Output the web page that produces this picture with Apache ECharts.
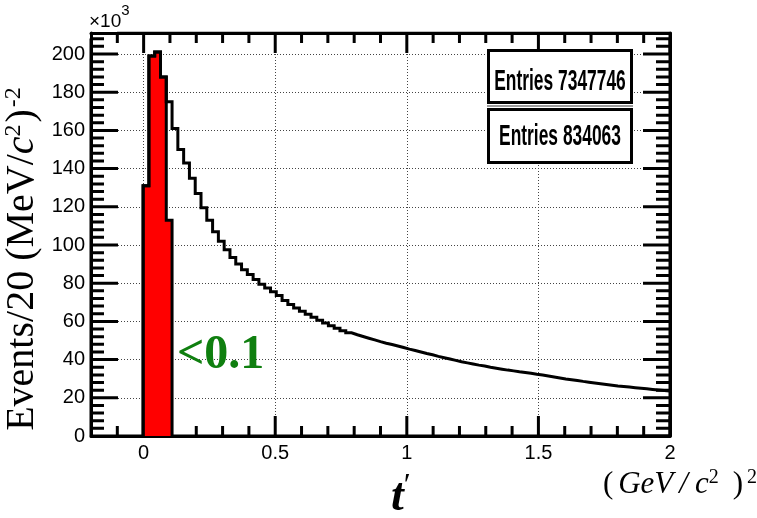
<!DOCTYPE html>
<html>
<head>
<meta charset="utf-8">
<script src="https://cdn.jsdelivr.net/npm/echarts@6/dist/echarts.min.js"></script>
<style>
  html, body { margin: 0; padding: 0; background: #ffffff; }
  #chart { width: 757px; height: 518px; }
</style>
</head>
<body>
<div id="chart"></div>
<script>
// Binning of the t' histogram: 100 bins over [-0.2, 2] (GeV/c^2)^2
const X_MIN = -0.2;
const X_MAX = 2.0;
const N_BINS = 100;
const FIRST_FILLED_BIN = 9;      // bins below this index hold no events

// Events per bin in units of 10^3, all events (bins 9..99)
const allCounts = [
  131, 199, 201, 188, 175, 161, 150, 143, 135, 127,
  119.5, 113, 107, 102, 97.5, 93.5, 90, 87, 84.5, 82,
  79.5, 77.5, 75.5, 73.5, 71, 68.8, 67, 65.3, 63.7, 62.2,
  60.6, 59.1, 57.7, 56.4, 55.1, 54, 53, 52.1, 51.2, 50.3,
  49.4, 48.6, 47.9, 47.1, 46.3, 45.5, 44.8, 44, 43.2, 42.5,
  41.7, 41, 40.3, 39.6, 38.9, 38.3, 37.7, 37.1, 36.6, 36,
  35.5, 35, 34.5, 34.1, 33.6, 33.2, 32.8, 32.3, 31.9, 31.4,
  30.9, 30.4, 29.9, 29.5, 29.1, 28.6, 28.2, 27.8, 27.4, 27,
  26.6, 26.2, 25.9, 25.6, 25.3, 25, 24.7, 24.4, 24.1, 23.8,
  23.5
];

// Events per bin in units of 10^3, selection t' < 0.1 (bins 9..13)
const selCounts = [131, 199, 201, 188, 113];

// Axis ticks (ROOT style: inward ticks on all four sides of the frame)
const xMajorTicks = [0, 0.5, 1, 1.5, 2];
const yMajorTicks = [0, 20, 40, 60, 80, 100, 120, 140, 160, 180, 200];
const X_MINOR_STEP = 0.1;
const Y_MINOR_STEP = 4;
const Y_MAX = 211;
const Y_STEP = 20;
// Tick lengths as fractions of the perpendicular axis span
const TICK_Y_MAJOR = 0.0466, TICK_Y_MINOR_L = 0.0225, TICK_Y_MINOR_R = 0.0242;
const TICK_X_MAJOR = 0.0496, TICK_X_MINOR = 0.0248;

const entriesAll = 7347746;
const entriesSel = 834063;
const cutLabel = '<0.1';

const SANS = "'Liberation Sans', Arial, sans-serif";
const SERIF = "'Liberation Serif', 'Times New Roman', serif";

function minorValues(lo, hi, step, majors) {
  const out = [];
  for (let k = Math.ceil(lo / step - 1e-9); k * step <= hi + 1e-9; k++) {
    const v = +(k * step).toFixed(6);
    if (v > lo && v < hi && !majors.some(m => Math.abs(m - v) < 1e-9)) out.push(v);
  }
  return out;
}
const xMinorTicks = minorValues(X_MIN, X_MAX, X_MINOR_STEP, xMajorTicks);
const yMinorTicks = minorValues(0, Y_MAX, Y_MINOR_STEP, yMajorTicks);

// Build a histogram outline as a stepped polyline through the bin edges
function histPoints(counts, firstBin, dropAtEnd) {
  const w = (X_MAX - X_MIN) / N_BINS;
  const pts = [[X_MIN + firstBin * w, 0]];
  counts.forEach((v, i) => pts.push([X_MIN + (firstBin + i) * w, v]));
  const xEnd = X_MIN + (firstBin + counts.length) * w;
  pts.push([xEnd, counts[counts.length - 1]]);
  if (dropAtEnd) pts.push([xEnd, 0]);
  return pts;
}

// A comb running along one frame edge: out to each tick and back again
function tickComb(edge, majors, minors, majorFrac, minorFrac) {
  const all = majors.map(v => [v, majorFrac]).concat(minors.map(v => [v, minorFrac]))
    .sort((a, b) => a[0] - b[0]);
  const xSpan = X_MAX - X_MIN, ySpan = Y_MAX;
  const pts = [];
  all.forEach(([v, f]) => {
    if (edge === 'left')   pts.push([X_MIN, v], [X_MIN + f * xSpan, v], [X_MIN, v]);
    if (edge === 'right')  pts.push([X_MAX, v], [X_MAX - f * xSpan, v], [X_MAX, v]);
    if (edge === 'bottom') pts.push([v, 0], [v, f * ySpan], [v, 0]);
    if (edge === 'top')    pts.push([v, Y_MAX], [v, Y_MAX - f * ySpan], [v, Y_MAX]);
  });
  return pts;
}

const black = '#000000';
const frameLine = () => ({ show: true, onZero: false, lineStyle: { color: black, width: 3 } });
const dotted = () => ({ show: true, lineStyle: { color: '#444', width: 1, type: [1, 2] } });
const noTick = () => ({ show: false });

const tickSeries = (name, data) => ({
  name: name, type: 'line', xAxisIndex: 0, yAxisIndex: 0, symbol: 'none', z: 2, silent: true,
  lineStyle: { color: black, width: 3, join: 'bevel', cap: 'butt' }, data: data
});

const chart = echarts.init(document.getElementById('chart'), null, { renderer: 'canvas' });

chart.setOption({
  animation: false,
  backgroundColor: '#ffffff',
  grid: { left: 91, right: 87, top: 33, bottom: 82 },
  xAxis: [
    { type: 'value', min: X_MIN, max: X_MAX, position: 'bottom',
      axisLine: frameLine(), axisTick: noTick(), minorTick: noTick(),
      axisLabel: { color: black, fontFamily: SANS, fontSize: 20, margin: 7, showMinLabel: false },
      splitLine: dotted() },
    { type: 'value', min: X_MIN, max: X_MAX, position: 'top',
      axisLine: frameLine(), axisTick: noTick(), minorTick: noTick(),
      axisLabel: { show: false }, splitLine: { show: false } }
  ],
  yAxis: [
    { type: 'value', min: 0, max: Y_MAX, interval: Y_STEP, position: 'left',
      axisLine: frameLine(), axisTick: noTick(), minorTick: noTick(),
      axisLabel: { color: black, fontFamily: SANS, fontSize: 20, margin: 6, showMaxLabel: false,
        formatter: v => (v % Y_STEP === 0 ? String(v) : '') },
      splitLine: dotted() },
    { type: 'value', min: 0, max: Y_MAX, interval: Y_STEP, position: 'right',
      axisLine: frameLine(), axisTick: noTick(), minorTick: noTick(),
      axisLabel: { show: false }, splitLine: { show: false } }
  ],
  series: [
    tickSeries('ticks left', tickComb('left', yMajorTicks, yMinorTicks, TICK_Y_MAJOR, TICK_Y_MINOR_L)),
    tickSeries('ticks right', tickComb('right', yMajorTicks, yMinorTicks, TICK_Y_MAJOR, TICK_Y_MINOR_R)),
    tickSeries('ticks bottom', tickComb('bottom', xMajorTicks, xMinorTicks, TICK_X_MAJOR, TICK_X_MINOR)),
    tickSeries('ticks top', tickComb('top', xMajorTicks, xMinorTicks, TICK_X_MAJOR, TICK_X_MINOR)),
    { name: 'selected', type: 'line', xAxisIndex: 0, yAxisIndex: 0, step: 'end',
      symbol: 'none', z: 3, silent: true,
      lineStyle: { color: black, width: 3, join: 'miter' },
      areaStyle: { color: '#ff0000', opacity: 1 },
      data: histPoints(selCounts, FIRST_FILLED_BIN, true) },
    { name: 'all', type: 'line', xAxisIndex: 0, yAxisIndex: 0, step: 'end',
      symbol: 'none', z: 4, silent: true,
      lineStyle: { color: black, width: 3, join: 'miter' },
      data: histPoints(allCounts, FIRST_FILLED_BIN, false) }
  ],
  graphic: [
    // exponent of the y scale
    { type: 'text', x: 89, y: 3, z: 10,
      style: { text: '{a|×10}{b|3}', textAlign: 'left', textVerticalAlign: 'top',
        rich: { a: { fontFamily: SANS, fontSize: 19, color: black, lineHeight: 28, verticalAlign: 'bottom' },
                b: { fontFamily: SANS, fontSize: 15, color: black, lineHeight: 28, verticalAlign: 'top' } } } },
    // y axis title
    { type: 'text', x: 22, y: 259, rotation: Math.PI / 2, z: 10,
      style: { text: '{n|Events/20 (MeV/}{i|c}{s|2}{n|)}{t|-2}', textAlign: 'center', textVerticalAlign: 'middle',
        rich: { n: { fontFamily: SERIF, fontSize: 40, color: black, lineHeight: 40, verticalAlign: 'bottom' },
                i: { fontFamily: SERIF, fontSize: 40, fontStyle: 'italic', color: black, lineHeight: 40, verticalAlign: 'bottom' },
                s: { fontFamily: SERIF, fontSize: 24, color: black, lineHeight: 40, verticalAlign: 'top', padding: [0, 2, 0, 0] },
                t: { fontFamily: SERIF, fontSize: 24, color: black, lineHeight: 40, verticalAlign: 'top', padding: [0, 0, 0, 2] } } } },
    // x axis title
    { type: 'text', x: 391, y: 496, z: 10,
      style: { text: '{t|t}{p|′}', textAlign: 'left', textVerticalAlign: 'middle',
        rich: { t: { fontFamily: SERIF, fontSize: 46, fontStyle: 'italic', fontWeight: 'bold', color: black, lineHeight: 50, verticalAlign: 'bottom' },
                p: { fontFamily: SERIF, fontSize: 32, color: black, lineHeight: 50, verticalAlign: 'top' } } } },
    // x axis unit
    { type: 'text', x: 757, y: 484, z: 10,
      style: { text: '{n|(}{i|GeV}{sl|/}{i|c}{s|2}{r|)}{s|2}', textAlign: 'right', textVerticalAlign: 'middle',
        rich: { n: { fontFamily: SERIF, fontSize: 31, color: black, lineHeight: 32, verticalAlign: 'bottom', padding: [0, 5, 0, 0] },
                i: { fontFamily: SERIF, fontSize: 31, fontStyle: 'italic', color: black, lineHeight: 32, verticalAlign: 'bottom' },
                sl: { fontFamily: SERIF, fontSize: 31, fontStyle: 'italic', color: black, lineHeight: 32, verticalAlign: 'bottom', padding: [0, 7, 0, 6] },
                r: { fontFamily: SERIF, fontSize: 31, color: black, lineHeight: 32, verticalAlign: 'bottom', padding: [0, 4, 0, 14] },
                s: { fontFamily: SERIF, fontSize: 20, color: black, lineHeight: 32, verticalAlign: 'top' } } } },
    // selection label
    { type: 'text', x: 177, y: 356, z: 10,
      style: { text: cutLabel, fontFamily: SERIF, fontSize: 48, fontWeight: 'bold', fill: '#0f7f0f',
        textAlign: 'left', textVerticalAlign: 'middle' } },
    // statistics boxes
    { type: 'rect', z: 20, shape: { x: 487, y: 105, width: 146, height: 2 }, style: { fill: '#9a9a9a' } },
    { type: 'rect', z: 21, shape: { x: 488.5, y: 50.5, width: 143, height: 52 },
      style: { fill: '#ffffff', stroke: black, lineWidth: 3 } },
    { type: 'rect', z: 21, shape: { x: 488.5, y: 109.5, width: 143, height: 53 },
      style: { fill: '#ffffff', stroke: black, lineWidth: 3 } },
    { type: 'text', z: 22, x: 560, y: 82, scaleX: 0.6,
      style: { text: 'Entries ' + entriesAll, fontFamily: SANS, fontWeight: 'bold', fontSize: 29, fill: black,
        textAlign: 'center', textVerticalAlign: 'middle' } },
    { type: 'text', z: 22, x: 560, y: 137, scaleX: 0.6,
      style: { text: 'Entries ' + entriesSel, fontFamily: SANS, fontWeight: 'bold', fontSize: 29, fill: black,
        textAlign: 'center', textVerticalAlign: 'middle' } }
  ]
});
</script>
</body>
</html>
